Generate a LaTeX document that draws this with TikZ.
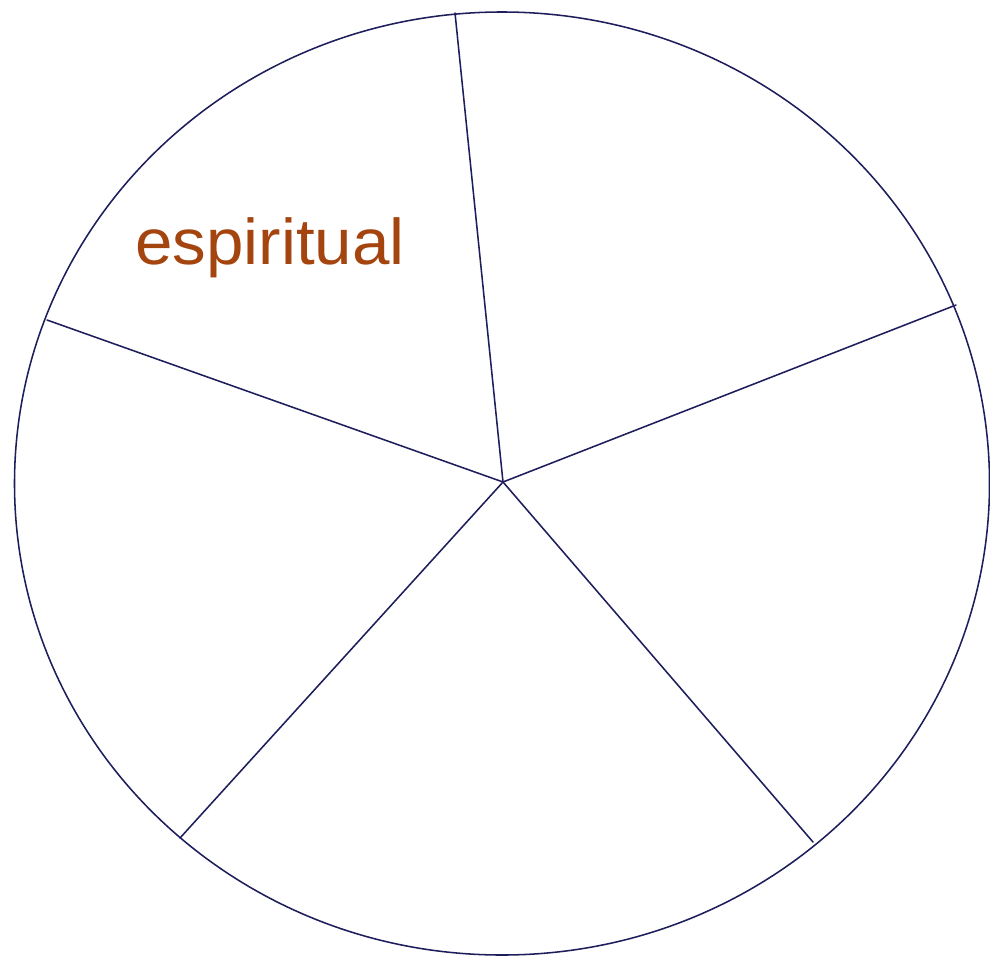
\documentclass[tikz,border=0pt]{standalone}
\usepackage{fontspec}
\setmainfont{Liberation Sans}
\begin{document}
\begin{tikzpicture}[x=0.025cm,y=-0.025cm,line cap=round,line join=round]
\definecolor{wheelline}{HTML}{1E1E5C}
\definecolor{labeltext}{HTML}{A4440E}

\useasboundingbox (0,0) rectangle (990,959);

\coordinate (hub) at (503,482);

% outer rim
\draw[wheelline,line width=1.1pt]
  (502,483.5) ellipse [x radius=487.5,y radius=471.5];

% five spokes
\foreach \x/\y in {455/13,956/305,813/842,180/838,47/320} {
  \draw[wheelline,line width=1.1pt] (hub) -- (\x,\y);
}

\node[labeltext,anchor=base,inner sep=0,xscale=1.04,
  font=\fontsize{46}{50}\selectfont] (spirit) at (270,264) {espiritual};
\end{tikzpicture}
\end{document}
